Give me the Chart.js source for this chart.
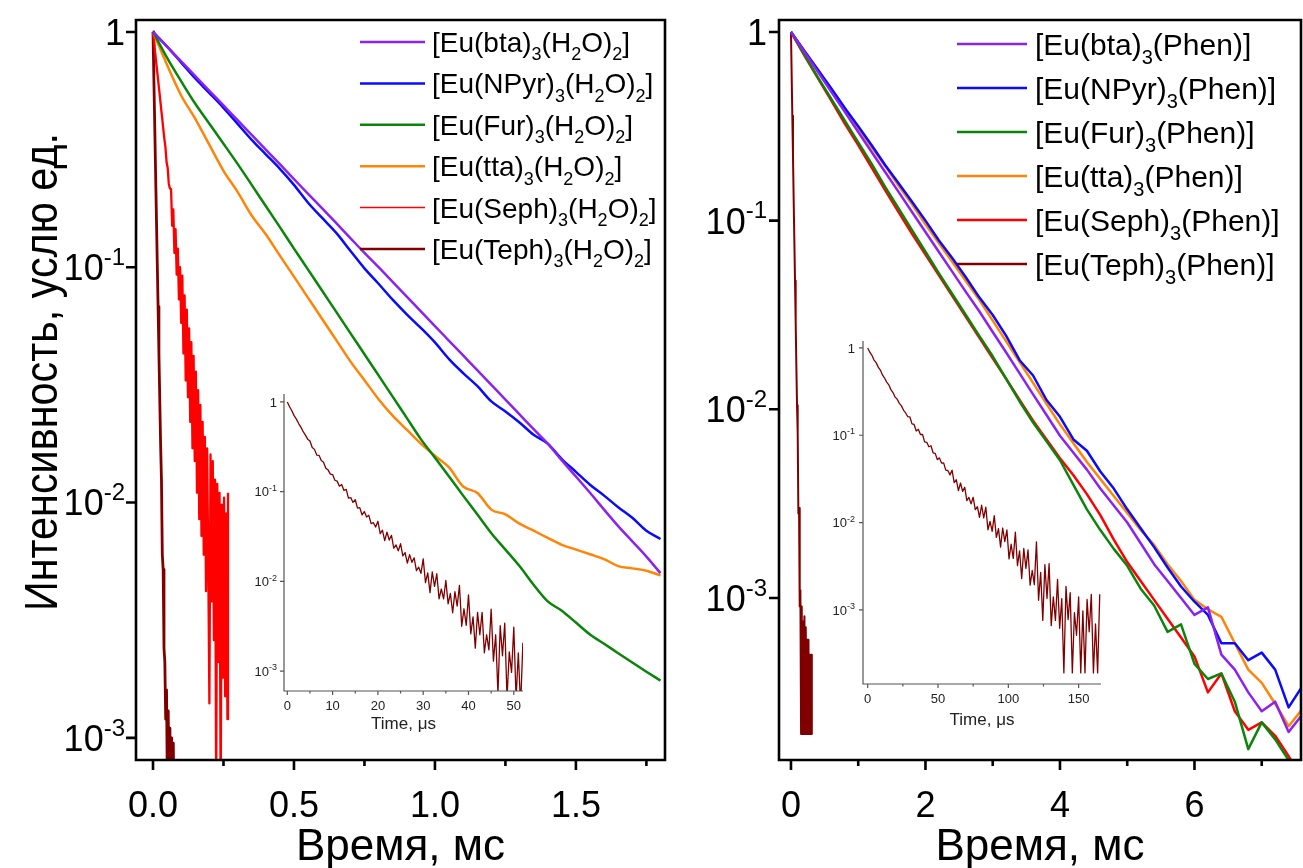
<!DOCTYPE html>
<html>
<head>
<meta charset="utf-8">
<script src="https://cdn.jsdelivr.net/npm/chart.js@4.4.0/dist/chart.umd.min.js"></script>
<style>
  body { margin: 0; background: #fff; }
  #wrap { position: relative; width: 1303px; height: 868px; overflow: hidden; background: #fff; }
  canvas { position: absolute; }
</style>
</head>
<body>
<div id="wrap">
  <canvas id="mainL" width="680" height="868" style="left:0;top:0"></canvas>
  <canvas id="mainR" width="623" height="868" style="left:680px;top:0"></canvas>
  <canvas id="insetL" width="330" height="360" style="left:230px;top:380px"></canvas>
  <canvas id="insetR" width="330" height="420" style="left:800px;top:325px"></canvas>
</div>
<script>
// ---- left panel: [Eu(L)3(H2O)2], time in ms ----
const labelsL = ["[Eu(bta)_3(H_2O)_2]", "[Eu(NPyr)_3(H_2O)_2]", "[Eu(Fur)_3(H_2O)_2]",
  "[Eu(tta)_3(H_2O)_2]", "[Eu(Seph)_3(H_2O)_2]", "[Eu(Teph)_3(H_2O)_2]"];
const timeL = [0, 0.05, 0.1, 0.15, 0.2, 0.25, 0.3, 0.35, 0.4, 0.45, 0.5, 0.55, 0.6, 0.65, 0.7, 0.75,
  0.8, 0.85, 0.9, 0.95, 1, 1.05, 1.1, 1.15, 1.2, 1.25, 1.3, 1.35, 1.4, 1.45, 1.5, 1.55, 1.6, 1.65, 1.7, 1.75, 1.8];
const btaL = [1, 0.866, 0.750, 0.649, 0.562, 0.487, 0.422, 0.365, 0.316, 0.274, 0.237, 0.205, 0.178, 0.154,
  0.133, 0.115, 0.100, 0.0866, 0.0750, 0.0649, 0.0562, 0.0487, 0.0422, 0.0365, 0.0316, 0.0274, 0.0237,
  0.0205, 0.0178, 0.0151, 0.0129, 0.0110, 0.00933, 0.00794, 0.00684, 0.00589, 0.00501];
const npyrL = [1, 0.867, 0.741, 0.634, 0.550, 0.476, 0.407, 0.348, 0.302, 0.262, 0.224, 0.188, 0.162, 0.140,
  0.1175, 0.0989, 0.0851, 0.0728, 0.0631, 0.0552, 0.0479, 0.0407, 0.0355, 0.0313, 0.0269, 0.0244, 0.0219,
  0.0194, 0.0178, 0.0153, 0.0135, 0.0119, 0.0107, 0.00955, 0.00861, 0.00759, 0.00700];
const furL = [1, 0.776, 0.617, 0.495, 0.407, 0.335, 0.275, 0.224, 0.182, 0.148, 0.120, 0.0977, 0.0794, 0.0646,
  0.0525, 0.0427, 0.0347, 0.0282, 0.0229, 0.0186, 0.0155, 0.0129, 0.0107, 0.00891, 0.00741, 0.00631, 0.00537,
  0.00447, 0.00380, 0.00347, 0.00309, 0.00275, 0.00251, 0.00229, 0.00209, 0.00191, 0.00175];
const ttaL = [1, 0.724, 0.537, 0.427, 0.331, 0.257, 0.209, 0.166, 0.138, 0.112, 0.0912, 0.0741, 0.0603, 0.0490,
  0.0398, 0.0331, 0.0275, 0.0234, 0.0204, 0.0178, 0.0158, 0.0141, 0.0117, 0.0110, 0.00933, 0.00891, 0.00813,
  0.00759, 0.00708, 0.00661, 0.00631, 0.00603, 0.00575, 0.00537, 0.00525, 0.00513, 0.00490];
const timeSephL = [0, 0.004, 0.008, 0.012, 0.016, 0.02, 0.024, 0.028, 0.032, 0.036, 0.04, 0.044, 0.048, 0.052,
  0.056, 0.06, 0.064, 0.068, 0.072, 0.076, 0.08, 0.084, 0.088, 0.092, 0.096, 0.1, 0.104, 0.108, 0.112, 0.116,
  0.12, 0.124, 0.128, 0.132, 0.136, 0.14, 0.144, 0.148, 0.152, 0.156, 0.16, 0.164, 0.168, 0.172, 0.176, 0.18,
  0.184, 0.188, 0.192, 0.196, 0.2, 0.204, 0.208, 0.212, 0.216, 0.22, 0.224, 0.228, 0.232, 0.236, 0.24, 0.244,
  0.248, 0.252, 0.256, 0.26, 0.264, 0.266];
const sephL = [1, 0.90, 0.81, 0.73, 0.66, 0.594, 0.537, 0.483, 0.436, 0.392, 0.353, 0.325, 0.280, 0.265, 0.226, 0.216,
  0.215, 0.150, 0.176, 0.115, 0.145, 0.093, 0.120, 0.073, 0.100, 0.058,
  0.092, 0.043, 0.076, 0.033, 0.066, 0.028, 0.055, 0.022, 0.048, 0.017, 0.042,
  0.015, 0.036, 0.011, 0.030, 0.0085, 0.026, 0.0072, 0.022, 0.0060, 0.019, 0.0042, 0.017, 0.0055, 0.0014,
  0.016, 0.0038, 0.0150, 0.0026, 0.0125, 0.0006, 0.0120, 0.0021, 0.0110, 0.0005, 0.0098, 0.0018, 0.0105,
  0.0015, 0.0090, 0.0012, 0.0110];
const timeTephL = [0, 0.003, 0.006, 0.009, 0.012, 0.015, 0.018, 0.021, 0.024, 0.027, 0.03, 0.033, 0.036, 0.039,
  0.042, 0.045, 0.048, 0.051, 0.054, 0.057, 0.06, 0.063, 0.066, 0.069, 0.072, 0.075];
const tephL = [1, 0.64, 0.41, 0.26, 0.166, 0.106, 0.068, 0.043, 0.0275, 0.0176, 0.0125, 0.0060, 0.0052, 0.0024,
  0.0021, 0.0012, 0.0016, 0.0006, 0.0013, 0.0005, 0.0011, 0.0004, 0.0010, 0.0004, 0.00095, 0.0004];

// ---- right panel: [Eu(L)3(Phen)], time in ms ----
const labelsR = ["[Eu(bta)_3(Phen)]", "[Eu(NPyr)_3(Phen)]", "[Eu(Fur)_3(Phen)]",
  "[Eu(tta)_3(Phen)]", "[Eu(Seph)_3(Phen)]", "[Eu(Teph)_3(Phen)]"];
const timeR = [0, 0.2, 0.4, 0.6, 0.8, 1, 1.2, 1.4, 1.6, 1.8, 2, 2.2, 2.4, 2.6, 2.8, 3, 3.2, 3.4, 3.6, 3.8,
  4, 4.2, 4.4, 4.6, 4.8, 5, 5.2, 5.4, 5.6, 5.8, 6, 6.2, 6.4, 6.6, 6.8, 7, 7.2, 7.4, 7.6];
const btaR = [1, 0.783, 0.614, 0.481, 0.377, 0.295, 0.231, 0.181, 0.142, 0.111, 0.0871, 0.0682, 0.0535, 0.0419,
  0.0331, 0.0257, 0.0200, 0.0155, 0.0120, 0.00933, 0.00724, 0.00589, 0.00479, 0.00380, 0.00309, 0.00251,
  0.00195, 0.00151, 0.00123, 0.001, 0.000813, 0.000891, 0.000501, 0.000417, 0.000316, 0.000251, 0.000282,
  0.000195, 0.000240];
const npyrR = [1, 0.794, 0.631, 0.501, 0.395, 0.316, 0.251, 0.197, 0.158, 0.126, 0.100, 0.0785, 0.0631, 0.0501,
  0.0392, 0.0316, 0.0245, 0.0182, 0.0151, 0.0112, 0.00912, 0.00692, 0.00603, 0.00468, 0.00380, 0.00295,
  0.00234, 0.00186, 0.00145, 0.00115, 0.000955, 0.000813, 0.000575, 0.000575, 0.000468, 0.000513, 0.000417,
  0.000263, 0.000339];
const furR = [1, 0.759, 0.575, 0.442, 0.339, 0.260, 0.200, 0.151, 0.116, 0.0891, 0.0684, 0.0525, 0.0407, 0.0316,
  0.0245, 0.0191, 0.0145, 0.0110, 0.00851, 0.00676, 0.00537, 0.00398, 0.00295, 0.00229, 0.00182, 0.00148,
  0.00112, 0.000912, 0.000661, 0.000724, 0.000447, 0.000372, 0.000398, 0.000282, 0.000158, 0.000219,
  0.000178, 0.000138, 0.000112];
const ttaR = [1, 0.794, 0.631, 0.495, 0.394, 0.309, 0.245, 0.195, 0.153, 0.122, 0.0955, 0.0759, 0.0603, 0.0479,
  0.0380, 0.0295, 0.0229, 0.0178, 0.0138, 0.0107, 0.00832, 0.00661, 0.00525, 0.00427, 0.00347, 0.00282,
  0.00229, 0.00191, 0.00151, 0.00123, 0.000977, 0.000871, 0.000794, 0.000575, 0.000417, 0.000355, 0.000275,
  0.000209, 0.000257];
const sephR = [1, 0.750, 0.569, 0.432, 0.327, 0.251, 0.191, 0.145, 0.111, 0.0851, 0.0661, 0.0513, 0.0398, 0.0309,
  0.0240, 0.0186, 0.0145, 0.0112, 0.00871, 0.00692, 0.00550, 0.00447, 0.00355, 0.00275, 0.00204, 0.00155,
  0.00123, 0.000977, 0.000776, 0.000617, 0.000490, 0.000316, 0.000398, 0.000251, 0.000200, 0.000219,
  0.000186, 0.000145, 0.000112];
const timeTephR = [0, 0.01, 0.02, 0.03, 0.04, 0.05, 0.06, 0.07, 0.08, 0.09, 0.1, 0.11, 0.12, 0.13, 0.14, 0.15,
  0.16, 0.17, 0.18, 0.19, 0.2, 0.21, 0.22, 0.23, 0.24, 0.25, 0.26, 0.27, 0.28, 0.29, 0.3, 0.31];
const tephR = [1, 0.60, 0.36, 0.22, 0.13, 0.079, 0.048, 0.029, 0.017, 0.0105, 0.0075, 0.0028, 0.0030, 0.0009,
  0.0011, 0.00019, 0.0009, 0.00019, 0.00075, 0.00019, 0.0008, 0.00019, 0.0007, 0.00019, 0.0006, 0.00019,
  0.0006, 0.00019, 0.0005, 0.00019, 0.0005, 0.00019];

// ---- insets: Teph decay, time in microseconds ----
const timeInsetL = [0, 0.5, 1, 1.5, 2, 2.5, 3, 3.5, 4, 4.5, 5, 5.5, 6, 6.5, 7, 7.5, 8, 8.5, 9, 9.5, 10, 10.5,
  11, 11.5, 12, 12.5, 13, 13.5, 14, 14.5, 15, 15.5, 16, 16.5, 17, 17.5, 18, 18.5, 19, 19.5, 20, 20.5, 21, 21.5,
  22, 22.5, 23, 23.5, 24, 24.5, 25, 25.5, 26, 26.5, 27, 27.5, 28, 28.5, 29, 29.5, 30, 30.5, 31, 31.5, 32, 32.5,
  33, 33.5, 34, 34.5, 35, 35.5, 36, 36.5, 37, 37.5, 38, 38.5, 39, 39.5, 40, 40.5, 41, 41.5, 42, 42.5, 43, 43.5,
  44, 44.5, 45, 45.5, 46, 46.5, 47, 47.5, 48, 48.5, 49, 49.5, 50, 50.5, 51, 51.5, 52];
const insetL = [1, 0.885, 0.797, 0.704, 0.643, 0.574, 0.524, 0.466, 0.427, 0.385,
  0.367, 0.311, 0.296, 0.256, 0.254, 0.222, 0.213, 0.182, 0.175, 0.157,
  0.155, 0.134, 0.131, 0.115, 0.120, 0.103, 0.106, 0.0847, 0.0859, 0.0759,
  0.0813, 0.0655, 0.0664, 0.0550, 0.0600, 0.0521, 0.0545, 0.0440, 0.0451, 0.0403,
  0.0468, 0.0341, 0.0372, 0.0285, 0.0354, 0.0289, 0.0326, 0.0234, 0.0255, 0.0219,
  0.0263, 0.0192, 0.0209, 0.0160, 0.0199, 0.0163, 0.0183, 0.0132, 0.0144, 0.0123,
  0.0178, 0.00966, 0.01245, 0.0075, 0.01274, 0.00881, 0.01216, 0.00638, 0.00822, 0.00638,
  0.01023, 0.00562, 0.00733, 0.00447, 0.00767, 0.00531, 0.00902, 0.00316, 0.00495, 0.00324,
  0.00708, 0.0026, 0.00403, 0.0018, 0.00452, 0.00254, 0.00452, 0.0016, 0.00254, 0.00172,
  0.0049, 0.00129, 0.00254, 0.000562, 0.0032, 0.00148, 0.00343, 0.0005, 0.00164, 0.000966,
  0.00309, 0.0005, 0.0016, 0.0004, 0.00207];
const timeInsetR = [0, 1.5, 3, 4.5, 6, 7.5, 9, 10.5, 12, 13.5, 15, 16.5, 18, 19.5, 21, 22.5, 24, 25.5, 27, 28.5,
  30, 31.5, 33, 34.5, 36, 37.5, 39, 40.5, 42, 43.5, 45, 46.5, 48, 49.5, 51, 52.5, 54, 55.5, 57, 58.5, 60, 61.5,
  63, 64.5, 66, 67.5, 69, 70.5, 72, 73.5, 75, 76.5, 78, 79.5, 81, 82.5, 84, 85.5, 87, 88.5, 90, 91.5, 93, 94.5,
  96, 97.5, 99, 100.5, 102, 103.5, 105, 106.5, 108, 109.5, 111, 112.5, 114, 115.5, 117, 118.5, 120, 121.5,
  123, 124.5, 126, 127.5, 129, 130.5, 132, 133.5, 135, 136.5, 138, 139.5, 141, 142.5, 144, 145.5, 147, 148.5,
  150, 151.5, 153, 154.5, 156, 157.5, 159, 160.5, 162, 163.5, 165];
const insetR = [1, 0.894, 0.822, 0.726, 0.679, 0.603, 0.557, 0.490, 0.452, 0.406,
  0.378, 0.333, 0.308, 0.273, 0.258, 0.232, 0.217, 0.193, 0.180, 0.163,
  0.162, 0.135, 0.133, 0.112, 0.117, 0.102, 0.102, 0.0841, 0.0830, 0.0738,
  0.0759, 0.0630, 0.0621, 0.0526, 0.0551, 0.0481, 0.0483, 0.0399, 0.0395, 0.0352,
  0.0398, 0.0287, 0.0310, 0.0232, 0.0284, 0.0228, 0.0254, 0.0179, 0.0194, 0.0164,
  0.0195, 0.0141, 0.0152, 0.0115, 0.0158, 0.0113, 0.0150, 0.00828, 0.0103, 0.00794,
  0.0120, 0.00678, 0.00855, 0.00525, 0.00867, 0.00605, 0.00824, 0.00384, 0.00565, 0.00389,
  0.00776, 0.00322, 0.00474, 0.00229, 0.00506, 0.00299, 0.00488, 0.00192, 0.00283, 0.00195,
  0.00603, 0.00129, 0.00269, 0.000759, 0.00331, 0.00135, 0.00339, 0.000661, 0.00141, 0.000759,
  0.00224, 0.000617, 0.00135, 0.00019, 0.00186, 0.000776, 0.00158, 0.00019, 0.000933, 0.000513,
  0.00141, 0.00019, 0.000977, 0.00019, 0.00132, 0.000562, 0.00151, 0.00019, 0.000692, 0.00019, 0.00151];

// ---- ticks ----
const yTicks = [1, 0.1, 0.01, 0.001];
const yTickLabels = ["1", "10^-1", "10^-2", "10^-3"];
const xTicksL = [0, 0.5, 1, 1.5];
const xTickLabelsL = ["0.0", "0.5", "1.0", "1.5"];
const xMinorL = [0.25, 0.75, 1.25, 1.75];
const xTicksR = [0, 2, 4, 6];
const xTickLabelsR = ["0", "2", "4", "6"];
const xMinorR = [1, 3, 5, 7];
const xTicksInsetL = [0, 10, 20, 30, 40, 50];
const xMinorInsetL = [5, 15, 25, 35, 45];
const xTicksInsetR = [0, 50, 100, 150];
const xMinorInsetR = [25, 75, 125];

const colors = ["#8c22f2", "#0a0aff", "#0a850a", "#ff8408", "#ff0000", "#800000"];
const FONT = '"Liberation Sans", Arial, sans-serif';

// split "10^-1" / "[Eu(bta)_3]" into normal, sub and sup pieces
function parseRich(str) {
  const parts = [];
  let buf = "", i = 0;
  while (i < str.length) {
    const c = str[i];
    if (c === "_") {
      if (buf) { parts.push({ t: buf, k: 0 }); buf = ""; }
      parts.push({ t: str[i + 1], k: -1 });
      i += 2;
    } else if (c === "^") {
      if (buf) { parts.push({ t: buf, k: 0 }); buf = ""; }
      parts.push({ t: str.slice(i + 1), k: 1 });
      i = str.length;
    } else { buf += c; i++; }
  }
  if (buf) parts.push({ t: buf, k: 0 });
  return parts;
}

function drawRich(ctx, str, x, y, size, align) {
  const parts = parseRich(str);
  const small = Math.round(size * 0.66);
  let total = 0;
  parts.forEach((p) => {
    ctx.font = `${p.k ? small : size}px ${FONT}`;
    p.w = ctx.measureText(p.t).width;
    total += p.w;
  });
  let cx = align === "right" ? x - total : align === "center" ? x - total / 2 : x;
  ctx.textAlign = "left";
  parts.forEach((p) => {
    ctx.font = `${p.k ? small : size}px ${FONT}`;
    const dy = p.k < 0 ? size * 0.3 : p.k > 0 ? -size * 0.42 : 0;
    ctx.fillText(p.t, cx, y + dy);
    cx += p.w;
  });
}

const axesPlugin = (o) => ({
  id: "axes",
  afterDatasetsDraw: (chart) => {
    const { ctx, chartArea: a, scales } = chart;
    const xs = scales.x, ys = scales.y;
    ctx.save();
    ctx.strokeStyle = o.color;
    ctx.fillStyle = o.textColor;
    ctx.lineWidth = o.lw;
    ctx.beginPath();
    if (o.box) {
      ctx.rect(a.left, a.top, a.right - a.left, a.bottom - a.top);
    } else {
      ctx.moveTo(a.left, a.top);
      ctx.lineTo(a.left, a.bottom);
      ctx.lineTo(a.right, a.bottom);
    }
    ctx.stroke();

    ctx.beginPath();
    o.xMajor.forEach((v) => {
      const px = xs.getPixelForValue(v);
      ctx.moveTo(px, a.bottom);
      ctx.lineTo(px, a.bottom + o.tick);
    });
    o.xMinor.forEach((v) => {
      const px = xs.getPixelForValue(v);
      ctx.moveTo(px, a.bottom);
      ctx.lineTo(px, a.bottom + o.minor);
    });
    yTicks.forEach((v) => {
      const py = ys.getPixelForValue(v);
      ctx.moveTo(a.left, py);
      ctx.lineTo(a.left - o.tick, py);
    });
    ctx.stroke();

    ctx.textBaseline = "alphabetic";
    o.xMajor.forEach((v, i) => {
      drawRich(ctx, o.xLabels[i], xs.getPixelForValue(v), a.bottom + o.xLabelDy, o.size, "center");
    });
    yTicks.forEach((v, i) => {
      drawRich(ctx, yTickLabels[i], a.left - o.yLabelDx, ys.getPixelForValue(v) + o.size * 0.36, o.size, "right");
    });

    ctx.font = `${o.titleSize}px ${FONT}`;
    ctx.textAlign = "center";
    ctx.fillText(o.xTitle, (a.left + a.right) / 2, a.bottom + o.xTitleDy);

    if (o.yTitle) {
      ctx.save();
      ctx.font = `${o.yTitle.size}px ${FONT}`;
      const w = ctx.measureText(o.yTitle.text).width;
      ctx.translate(o.yTitle.x, o.yTitle.y);
      ctx.rotate(-Math.PI / 2);
      ctx.scale(o.yTitle.len / w, 1);
      ctx.textAlign = "center";
      ctx.fillText(o.yTitle.text, 0, 0);
      ctx.restore();
    }

    if (o.legend) {
      const L = o.legend;
      chart.data.datasets.forEach((ds, i) => {
        const y = L.y0 + i * L.dy;
        ctx.strokeStyle = ds.borderColor;
        ctx.lineWidth = ds.legendWidth || ds.borderWidth;
        ctx.beginPath();
        ctx.moveTo(L.x1, y);
        ctx.lineTo(L.x2, y);
        ctx.stroke();
        ctx.fillStyle = "#000";
        drawRich(ctx, ds.label, L.tx, y + L.size * 0.36, L.size, "left");
      });
    }
    ctx.restore();
  },
});

const series = (label, xs, ys, color, width, legendWidth, smooth) => ({
  label,
  data: xs.map((x, i) => ({ x, y: ys[i] })),
  borderColor: color,
  backgroundColor: color,
  borderWidth: width,
  legendWidth,
  cubicInterpolationMode: smooth ? "monotone" : "default",
  fill: false,
});

const options = (xr, yr, pad) => ({
  responsive: false,
  animation: false,
  events: [],
  layout: { padding: pad },
  plugins: { legend: { display: false }, tooltip: { enabled: false } },
  elements: { point: { radius: 0 }, line: { tension: 0, borderJoinStyle: "round" } },
  scales: {
    x: { type: "linear", display: false, min: xr[0], max: xr[1] },
    y: { type: "logarithmic", display: false, min: yr[0], max: yr[1] },
  },
});

new Chart(document.getElementById("mainL"), {
  type: "line",
  data: {
    datasets: [
      series(labelsL[0], timeL, btaL, colors[0], 2.5, 2.5, true),
      series(labelsL[1], timeL, npyrL, colors[1], 2.5, 2.5, true),
      series(labelsL[2], timeL, furL, colors[2], 2.5, 2.5, true),
      series(labelsL[3], timeL, ttaL, colors[3], 2.5, 2.5, true),
      series(labelsL[4], timeSephL, sephL, colors[4], 2.3, 1.5),
      series(labelsL[5], timeTephL, tephL, colors[5], 2.8, 2.5),
    ],
  },
  options: options([-0.0603, 1.816], [8.05e-4, 1.124], { left: 136, top: 20, right: 15, bottom: 108 }),
  plugins: [axesPlugin({
    box: true, color: "#000", textColor: "#000", lw: 2.6, tick: 10, minor: 6,
    xMajor: xTicksL, xMinor: xMinorL, xLabels: xTickLabelsL,
    size: 36, xLabelDy: 57, yLabelDx: 11,
    xTitle: "Время, мс", titleSize: 44, xTitleDy: 100,
    yTitle: { text: "Интенсивность, услю ед.", size: 46, x: 57, y: 372, len: 478 },
    legend: { x1: 360, x2: 425, tx: 432, y0: 42, dy: 41.4, size: 28 },
  })],
});

new Chart(document.getElementById("mainR"), {
  type: "line",
  data: {
    datasets: [
      series(labelsR[0], timeR, btaR, colors[0], 2.5),
      series(labelsR[1], timeR, npyrR, colors[1], 2.5),
      series(labelsR[2], timeR, furR, colors[2], 2.5),
      series(labelsR[3], timeR, ttaR, colors[3], 2.5),
      series(labelsR[4], timeR, sephR, colors[4], 2.5),
      series(labelsR[5], timeTephR, tephR, colors[5], 2, 2.5),
    ],
  },
  options: options([-0.178, 7.584], [1.384e-4, 1.157], { left: 99, top: 20, right: 2, bottom: 108 }),
  plugins: [axesPlugin({
    box: true, color: "#000", textColor: "#000", lw: 2.6, tick: 10, minor: 6,
    xMajor: xTicksR, xMinor: xMinorR, xLabels: xTickLabelsR,
    size: 36, xLabelDy: 57, yLabelDx: 12,
    xTitle: "Время, мс", titleSize: 44, xTitleDy: 100,
    legend: { x1: 277, x2: 347, tx: 355, y0: 44, dy: 44, size: 30 },
  })],
});

new Chart(document.getElementById("insetL"), {
  type: "line",
  data: { datasets: [series("Teph", timeInsetL, insetL, colors[5], 1.3)] },
  options: options([-0.73, 52.03], [6.3e-4, 1.226], { left: 54, top: 14, right: 37, bottom: 49 }),
  plugins: [axesPlugin({
    box: false, color: "#555", textColor: "#222", lw: 1.2, tick: 4, minor: 2.5,
    xMajor: xTicksInsetL, xMinor: xMinorInsetL, xLabels: xTicksInsetL.map(String),
    size: 13, xLabelDy: 19, yLabelDx: 7,
    xTitle: "Time, μs", titleSize: 17, xTitleDy: 38,
  })],
});

new Chart(document.getElementById("insetR"), {
  type: "line",
  data: { datasets: [series("Teph", timeInsetR, insetR, colors[5], 1.3)] },
  options: options([-3.34, 165.9], [1.42e-4, 1.2], { left: 63, top: 16, right: 29, bottom: 61 }),
  plugins: [axesPlugin({
    box: false, color: "#555", textColor: "#222", lw: 1.2, tick: 4, minor: 2.5,
    xMajor: xTicksInsetR, xMinor: xMinorInsetR, xLabels: xTicksInsetR.map(String),
    size: 13, xLabelDy: 19, yLabelDx: 8,
    xTitle: "Time, μs", titleSize: 17, xTitleDy: 41,
  })],
});
</script>
</body>
</html>
